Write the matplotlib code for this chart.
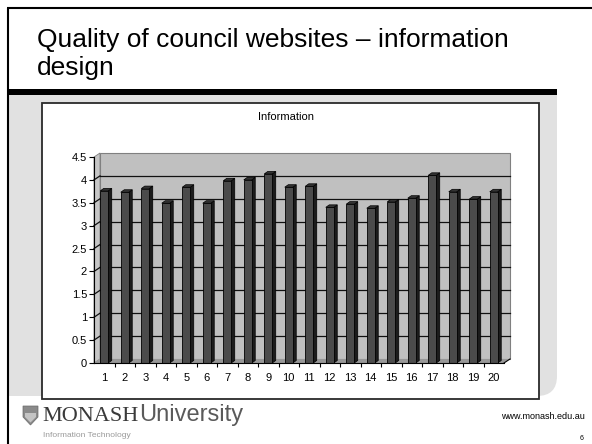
import numpy as np
import matplotlib
matplotlib.use('Agg')
import matplotlib.pyplot as plt
from matplotlib.patches import Rectangle, Polygon, PathPatch
from matplotlib.path import Path

plt.rcParams['font.family'] = ['Liberation Sans', 'DejaVu Sans']

# data
sites = [str(i) for i in range(1, 21)]
scores = [3.76, 3.73, 3.81, 3.49, 3.84, 3.49, 3.98, 4.00, 4.13, 3.84,
          3.86, 3.40, 3.47, 3.38, 3.52, 3.60, 4.10, 3.74, 3.58, 3.74]
y_ticks = [0, 0.5, 1, 1.5, 2, 2.5, 3, 3.5, 4, 4.5]
y_labels = ['0', '0.5', '1', '1.5', '2', '2.5', '3', '3.5', '4', '4.5']
title_lines = ['Quality of council websites \u2013 information', 'design']
chart_title = 'Information'

W, H = 592, 444
fig = plt.figure(figsize=(W / 100, H / 100), dpi=100)

#------------------------------------------------------------------------------
# slide background, drawn in pixel coords (y goes down)
bg = fig.add_axes([0, 0, 1, 1], zorder=0)
bg.set_xlim(0, W)
bg.set_ylim(H, 0)
bg.axis('off')

bg.plot([7, W], [8.5, 8.5], color='k', lw=1.5, solid_capstyle='butt')
bg.plot([8, 8], [8, H], color='k', lw=1.5, solid_capstyle='butt')
bg.text(37, 47, title_lines[0], fontsize=19, color='k', va='baseline', ha='left')
bg.text(37, 75, title_lines[1], fontsize=19, color='k', va='baseline', ha='left')

# grey panel with rounded bottom right corner
verts = [(9, 95), (557, 95), (557, 376), (557, 396), (537, 396), (9, 396), (9, 95)]
codes = [Path.MOVETO, Path.LINETO, Path.LINETO, Path.CURVE3, Path.CURVE3,
         Path.LINETO, Path.CLOSEPOLY]
bg.add_patch(PathPatch(Path(verts, codes), facecolor='#e1e1e1', edgecolor='none'))
bg.add_patch(Rectangle((8, 89), 549, 6, facecolor='k', edgecolor='none'))

# white chart box
bg.add_patch(Rectangle((42, 103), 497, 296, facecolor='white',
                       edgecolor='#2a2a2a', lw=1.3))
bg.text(286, 117, chart_title, fontsize=8, ha='center', va='center')

# footer
shield = [(23, 406), (38, 406), (38, 417), (30.5, 425), (23, 417)]
bg.add_patch(Polygon(shield, closed=True, facecolor='#8a8a8a', edgecolor='#6a6a6a', lw=0.5))
bg.add_patch(Polygon([(25, 413), (36, 413), (36, 417), (30.5, 422.5), (25, 417)],
                     closed=True, facecolor='#c4c4c4', edgecolor='none'))
bg.text(42, 421, 'MONASH', fontsize=16, family='Liberation Serif', color='#3a3a3a',
        va='baseline')
bg.text(139, 421, 'University', fontsize=17, color='#5a5a5a', va='baseline')
bg.text(43, 437, 'Information Technology', fontsize=6, color='#9a9a9a', va='baseline')
bg.text(585, 419, 'www.monash.edu.au', fontsize=6.5, color='k', ha='right', va='baseline')
bg.text(583, 440, '6', fontsize=5, color='k', ha='right', va='baseline')

#------------------------------------------------------------------------------
# chart: axes cover the front plane of the 3d plot
x0, x1, yb, yt = 94, 504, 363, 157
ax = fig.add_axes([x0 / W, (H - yb) / H, (x1 - x0) / W, (yb - yt) / H], zorder=1)
ax.patch.set_alpha(0)
ax.set_xlim(0.5, 20.5)
ax.set_ylim(0, 4.5)

px_x = (x1 - x0) / 20.0        # pixels per category
px_y = (yb - yt) / 4.5         # pixels per unit
ddx, ddy = 6 / px_x, 4 / px_y  # depth of the wall
bdx, bdy = 3.5 / px_x, 2.5 / px_y  # depth of a bar

lo, hi = 0.5, 20.5
# back wall, left wall and floor
ax.add_patch(Rectangle((lo + ddx, ddy), 20, 4.5, facecolor='#c0c0c0',
                       edgecolor='#808080', lw=0.8, clip_on=False, zorder=1))
ax.add_patch(Polygon([(lo, 0), (lo + ddx, ddy), (lo + ddx, 4.5 + ddy), (lo, 4.5)],
                     facecolor='#c6c6c6', edgecolor='#808080', lw=0.6,
                     clip_on=False, zorder=1))
ax.add_patch(Polygon([(lo, 0), (hi, 0), (hi + ddx, ddy), (lo + ddx, ddy)],
                     facecolor='#989898', edgecolor='none', clip_on=False, zorder=1))
for yv in y_ticks[1:-1]:
    ax.plot([lo + ddx, hi + ddx], [yv + ddy, yv + ddy], color='#111111', lw=0.9,
            clip_on=False, zorder=2)
    ax.plot([lo, lo + ddx], [yv, yv + ddy], color='#111111', lw=0.9,
            clip_on=False, zorder=2)
ax.plot([hi, hi + ddx], [0, ddy], color='k', lw=0.8, clip_on=False, zorder=2)

# bars
xs = np.arange(1, len(sites) + 1)
bw = 0.39
ax.bar(xs, scores, width=bw, color='#4b4b4b', edgecolor='k', lw=0.6, zorder=4)
for x, v in zip(xs, scores):
    r, l = x + bw / 2, x - bw / 2
    ax.add_patch(Polygon([(r, 0), (r + bdx, bdy), (r + bdx, v + bdy), (r, v)],
                         facecolor='#1c1c1c', edgecolor='k', lw=0.5, zorder=3,
                         clip_on=False))
    ax.add_patch(Polygon([(l, v), (r, v), (r + bdx, v + bdy), (l + bdx, v + bdy)],
                         facecolor='#333333', edgecolor='k', lw=0.5, zorder=3,
                         clip_on=False))

for s in ['top', 'right']:
    ax.spines[s].set_visible(False)
for s in ['left', 'bottom']:
    ax.spines[s].set_linewidth(0.8)
    ax.spines[s].set_zorder(5)

ax.set_yticks(y_ticks)
ax.set_yticklabels(y_labels)
ax.tick_params(axis='y', length=3.5, width=0.8, pad=1.5, labelsize=8)
ax.set_xticks(xs)
ax.set_xticklabels(sites)
ax.set_xticks(np.arange(1.5, 20.5, 1.0), minor=True)
ax.tick_params(axis='x', which='major', length=0, pad=7, labelsize=8)
ax.tick_params(axis='x', which='minor', length=3, width=0.8)

fig.savefig('out.png', dpi=100)
